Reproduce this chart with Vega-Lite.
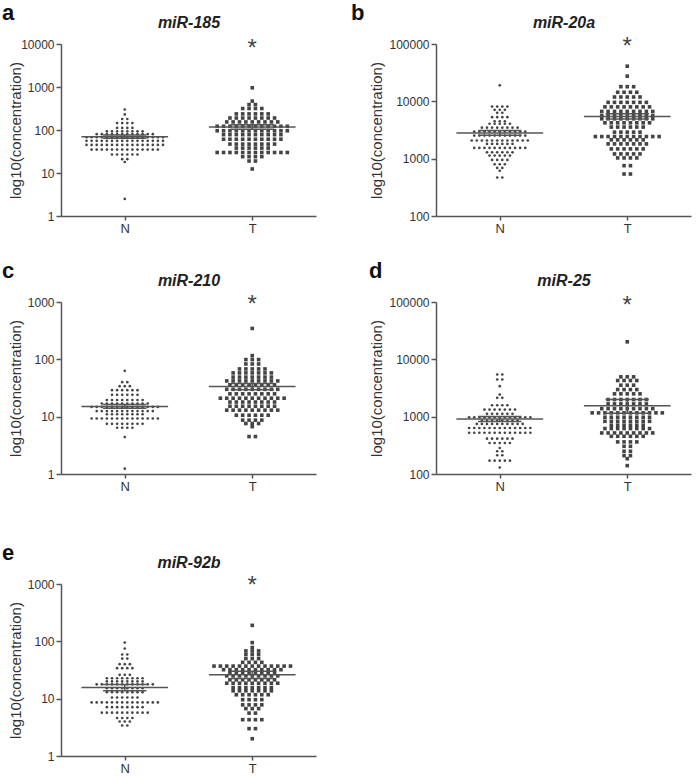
{
"$schema":"https://vega.github.io/schema/vega-lite/v6.json",
"padding":{"left":2,"top":2,"right":2,"bottom":2},
"background":"white",
"config":{
 "view":{"stroke":null},
 "font":"Liberation Sans",
 "title":{"anchor":"start","frame":"bounds","fontSize":22,"fontWeight":"bold","color":"#111","font":"Liberation Sans","offset":-11},
 "axis":{"domainColor":"#555","domainWidth":1.5,"tickColor":"#555","tickWidth":1.5,"labelFont":"Liberation Sans","labelFontSize":12,"labelColor":"#333","titleFont":"Liberation Sans","titleFontSize":15,"titleFontWeight":"normal","titleColor":"#333","grid":false},
 "axisY":{"tickSize":5,"labelPadding":2},
 "axisX":{"tickSize":4,"labelPadding":2}
},
"datasets":{
"s":[{"p":"a","g":"N","mean":70,"lo":64,"hi":77,"sig":""},{"p":"a","g":"T","mean":118,"lo":104,"hi":133,"sig":"*"},{"p":"b","g":"N","mean":2800,"lo":2550,"hi":3100,"sig":""},{"p":"b","g":"T","mean":5450,"lo":4900,"hi":6100,"sig":"*"},{"p":"c","g":"N","mean":15,"lo":14,"hi":16.3,"sig":""},{"p":"c","g":"T","mean":33.5,"lo":29.5,"hi":38,"sig":"*"},{"p":"d","g":"N","mean":910,"lo":820,"hi":1010,"sig":""},{"p":"d","g":"T","mean":1550,"lo":1150,"hi":2000,"sig":"*"},{"p":"e","g":"N","mean":15.6,"lo":13.8,"hi":17.6,"sig":""},{"p":"e","g":"T","mean":26,"lo":22.5,"hi":30,"sig":"*"}],
"a":[
{"g":"N","v":2.5},{"g":"N","v":18},{"g":"N","v":21},{"g":"N","v":21},
{"g":"N","v":27},{"g":"N","v":27},{"g":"N","v":27},{"g":"N","v":27},{"g":"N","v":27},{"g":"N","v":27},
{"g":"N","v":35},{"g":"N","v":35},{"g":"N","v":35},{"g":"N","v":35},{"g":"N","v":35},{"g":"N","v":35},{"g":"N","v":35},{"g":"N","v":35},{"g":"N","v":35},{"g":"N","v":35},{"g":"N","v":35},{"g":"N","v":35},{"g":"N","v":35},{"g":"N","v":35},
{"g":"N","v":45},{"g":"N","v":45},{"g":"N","v":45},{"g":"N","v":45},{"g":"N","v":45},{"g":"N","v":45},{"g":"N","v":45},{"g":"N","v":45},{"g":"N","v":45},{"g":"N","v":45},{"g":"N","v":45},{"g":"N","v":45},{"g":"N","v":45},{"g":"N","v":45},{"g":"N","v":45},{"g":"N","v":45},
{"g":"N","v":56},{"g":"N","v":56},{"g":"N","v":56},{"g":"N","v":56},{"g":"N","v":56},{"g":"N","v":56},{"g":"N","v":56},{"g":"N","v":56},{"g":"N","v":56},{"g":"N","v":56},{"g":"N","v":56},{"g":"N","v":56},{"g":"N","v":56},{"g":"N","v":56},{"g":"N","v":56},{"g":"N","v":56},
{"g":"N","v":68},{"g":"N","v":68},{"g":"N","v":68},{"g":"N","v":68},{"g":"N","v":68},{"g":"N","v":68},{"g":"N","v":68},{"g":"N","v":68},{"g":"N","v":68},{"g":"N","v":68},{"g":"N","v":68},{"g":"N","v":68},{"g":"N","v":68},{"g":"N","v":68},{"g":"N","v":68},{"g":"N","v":68},
{"g":"N","v":80},{"g":"N","v":80},{"g":"N","v":80},{"g":"N","v":80},{"g":"N","v":80},{"g":"N","v":80},{"g":"N","v":80},{"g":"N","v":80},{"g":"N","v":80},{"g":"N","v":80},{"g":"N","v":80},{"g":"N","v":80},
{"g":"N","v":93},{"g":"N","v":93},{"g":"N","v":93},{"g":"N","v":93},{"g":"N","v":93},{"g":"N","v":93},{"g":"N","v":93},{"g":"N","v":93},
{"g":"N","v":112},{"g":"N","v":112},{"g":"N","v":112},{"g":"N","v":112},
{"g":"N","v":145},{"g":"N","v":145},{"g":"N","v":145},{"g":"N","v":145},
{"g":"N","v":180},{"g":"N","v":180},{"g":"N","v":230},{"g":"N","v":300},
{"g":"T","v":960},{"g":"T","v":470},{"g":"T","v":390},{"g":"T","v":390},
{"g":"T","v":316},{"g":"T","v":316},{"g":"T","v":316},{"g":"T","v":316},
{"g":"T","v":237},{"g":"T","v":237},{"g":"T","v":237},{"g":"T","v":237},{"g":"T","v":237},{"g":"T","v":237},
{"g":"T","v":190},{"g":"T","v":190},{"g":"T","v":190},{"g":"T","v":190},{"g":"T","v":190},{"g":"T","v":190},{"g":"T","v":190},{"g":"T","v":190},
{"g":"T","v":154},{"g":"T","v":154},{"g":"T","v":154},{"g":"T","v":154},{"g":"T","v":154},{"g":"T","v":154},{"g":"T","v":154},{"g":"T","v":154},{"g":"T","v":154},
{"g":"T","v":122},{"g":"T","v":122},{"g":"T","v":122},{"g":"T","v":122},{"g":"T","v":122},{"g":"T","v":122},{"g":"T","v":122},{"g":"T","v":122},{"g":"T","v":122},{"g":"T","v":122},{"g":"T","v":122},{"g":"T","v":122},
{"g":"T","v":96},{"g":"T","v":96},{"g":"T","v":96},{"g":"T","v":96},{"g":"T","v":96},{"g":"T","v":96},{"g":"T","v":96},{"g":"T","v":96},{"g":"T","v":96},{"g":"T","v":96},{"g":"T","v":96},{"g":"T","v":96},
{"g":"T","v":78},{"g":"T","v":78},{"g":"T","v":78},{"g":"T","v":78},{"g":"T","v":78},{"g":"T","v":78},{"g":"T","v":78},{"g":"T","v":78},{"g":"T","v":78},{"g":"T","v":78},
{"g":"T","v":61},{"g":"T","v":61},{"g":"T","v":61},{"g":"T","v":61},{"g":"T","v":61},{"g":"T","v":61},{"g":"T","v":61},{"g":"T","v":61},{"g":"T","v":61},{"g":"T","v":61},
{"g":"T","v":47},{"g":"T","v":47},{"g":"T","v":47},{"g":"T","v":47},{"g":"T","v":47},{"g":"T","v":47},{"g":"T","v":47},{"g":"T","v":47},
{"g":"T","v":38},{"g":"T","v":38},{"g":"T","v":38},{"g":"T","v":38},{"g":"T","v":38},{"g":"T","v":38},
{"g":"T","v":30},{"g":"T","v":30},{"g":"T","v":30},{"g":"T","v":30},{"g":"T","v":30},{"g":"T","v":30},{"g":"T","v":30},{"g":"T","v":30},{"g":"T","v":30},{"g":"T","v":30},{"g":"T","v":30},{"g":"T","v":30},
{"g":"T","v":24},{"g":"T","v":24},{"g":"T","v":24},{"g":"T","v":24},{"g":"T","v":19},{"g":"T","v":19},{"g":"T","v":12.4}
],
"b":[
{"g":"N","v":19000},
{"g":"N","v":8100},{"g":"N","v":8100},{"g":"N","v":8100},{"g":"N","v":8100},
{"g":"N","v":7100},{"g":"N","v":7100},{"g":"N","v":7100},
{"g":"N","v":6300},{"g":"N","v":6300},
{"g":"N","v":5300},{"g":"N","v":5300},{"g":"N","v":5300},{"g":"N","v":5300},
{"g":"N","v":4500},{"g":"N","v":4500},{"g":"N","v":4500},
{"g":"N","v":4060},{"g":"N","v":4060},{"g":"N","v":4060},{"g":"N","v":4060},{"g":"N","v":4060},
{"g":"N","v":3470},{"g":"N","v":3470},{"g":"N","v":3470},{"g":"N","v":3470},{"g":"N","v":3470},{"g":"N","v":3470},{"g":"N","v":3470},{"g":"N","v":3470},
{"g":"N","v":2970},{"g":"N","v":2970},{"g":"N","v":2970},{"g":"N","v":2970},{"g":"N","v":2970},{"g":"N","v":2970},{"g":"N","v":2970},{"g":"N","v":2970},{"g":"N","v":2970},{"g":"N","v":2970},{"g":"N","v":2970},
{"g":"N","v":2530},{"g":"N","v":2530},{"g":"N","v":2530},{"g":"N","v":2530},{"g":"N","v":2530},{"g":"N","v":2530},{"g":"N","v":2530},{"g":"N","v":2530},{"g":"N","v":2530},{"g":"N","v":2530},{"g":"N","v":2530},
{"g":"N","v":2070},{"g":"N","v":2070},{"g":"N","v":2070},{"g":"N","v":2070},{"g":"N","v":2070},{"g":"N","v":2070},{"g":"N","v":2070},{"g":"N","v":2070},{"g":"N","v":2070},{"g":"N","v":2070},{"g":"N","v":2070},{"g":"N","v":2070},
{"g":"N","v":1810},{"g":"N","v":1810},{"g":"N","v":1810},{"g":"N","v":1810},{"g":"N","v":1810},{"g":"N","v":1810},
{"g":"N","v":1540},{"g":"N","v":1540},{"g":"N","v":1540},{"g":"N","v":1540},{"g":"N","v":1540},{"g":"N","v":1540},{"g":"N","v":1540},{"g":"N","v":1540},{"g":"N","v":1540},{"g":"N","v":1540},{"g":"N","v":1540},
{"g":"N","v":1290},{"g":"N","v":1290},{"g":"N","v":1290},{"g":"N","v":1290},{"g":"N","v":1290},{"g":"N","v":1290},
{"g":"N","v":1130},{"g":"N","v":1130},{"g":"N","v":1130},{"g":"N","v":1130},{"g":"N","v":1130},
{"g":"N","v":950},{"g":"N","v":950},{"g":"N","v":950},{"g":"N","v":950},
{"g":"N","v":800},{"g":"N","v":800},{"g":"N","v":800},
{"g":"N","v":690},{"g":"N","v":690},{"g":"N","v":615},{"g":"N","v":470},{"g":"N","v":470},
{"g":"T","v":41000},{"g":"T","v":27500},
{"g":"T","v":18000},{"g":"T","v":18000},{"g":"T","v":18000},
{"g":"T","v":14400},{"g":"T","v":14400},{"g":"T","v":14400},{"g":"T","v":14400},
{"g":"T","v":11900},{"g":"T","v":11900},{"g":"T","v":11900},{"g":"T","v":11900},{"g":"T","v":11900},
{"g":"T","v":9600},{"g":"T","v":9600},{"g":"T","v":9600},{"g":"T","v":9600},{"g":"T","v":9600},{"g":"T","v":9600},{"g":"T","v":9600},
{"g":"T","v":8000},{"g":"T","v":8000},{"g":"T","v":8000},{"g":"T","v":8000},{"g":"T","v":8000},{"g":"T","v":8000},{"g":"T","v":8000},{"g":"T","v":8000},
{"g":"T","v":6670},{"g":"T","v":6670},{"g":"T","v":6670},{"g":"T","v":6670},{"g":"T","v":6670},{"g":"T","v":6670},{"g":"T","v":6670},{"g":"T","v":6670},{"g":"T","v":6670},
{"g":"T","v":5650},{"g":"T","v":5650},{"g":"T","v":5650},{"g":"T","v":5650},{"g":"T","v":5650},{"g":"T","v":5650},{"g":"T","v":5650},{"g":"T","v":5650},{"g":"T","v":5650},
{"g":"T","v":4960},{"g":"T","v":4960},{"g":"T","v":4960},{"g":"T","v":4960},{"g":"T","v":4960},{"g":"T","v":4960},{"g":"T","v":4960},{"g":"T","v":4960},{"g":"T","v":4960},
{"g":"T","v":4220},{"g":"T","v":4220},{"g":"T","v":4220},{"g":"T","v":4220},{"g":"T","v":4220},{"g":"T","v":4220},{"g":"T","v":4220},{"g":"T","v":4220},
{"g":"T","v":3560},{"g":"T","v":3560},{"g":"T","v":3560},{"g":"T","v":3560},{"g":"T","v":3560},{"g":"T","v":3560},
{"g":"T","v":2900},{"g":"T","v":2900},{"g":"T","v":2900},{"g":"T","v":2900},{"g":"T","v":2900},
{"g":"T","v":2430},{"g":"T","v":2430},{"g":"T","v":2430},{"g":"T","v":2430},{"g":"T","v":2430},{"g":"T","v":2430},{"g":"T","v":2430},{"g":"T","v":2430},{"g":"T","v":2430},{"g":"T","v":2430},{"g":"T","v":2430},
{"g":"T","v":2130},{"g":"T","v":2130},{"g":"T","v":2130},{"g":"T","v":2130},{"g":"T","v":2130},{"g":"T","v":2130},
{"g":"T","v":1810},{"g":"T","v":1810},{"g":"T","v":1810},{"g":"T","v":1810},{"g":"T","v":1810},{"g":"T","v":1810},{"g":"T","v":1810},
{"g":"T","v":1480},{"g":"T","v":1480},{"g":"T","v":1480},{"g":"T","v":1480},{"g":"T","v":1480},{"g":"T","v":1480},
{"g":"T","v":1210},{"g":"T","v":1210},{"g":"T","v":1210},{"g":"T","v":1210},{"g":"T","v":1210},
{"g":"T","v":1030},{"g":"T","v":1030},{"g":"T","v":1030},{"g":"T","v":1030},
{"g":"T","v":755},{"g":"T","v":755},{"g":"T","v":540},{"g":"T","v":540}
],
"c":[
{"g":"N","v":1.24},{"g":"N","v":4.4},
{"g":"N","v":6.4},{"g":"N","v":6.4},{"g":"N","v":6.4},{"g":"N","v":6.4},
{"g":"N","v":7.5},{"g":"N","v":7.5},{"g":"N","v":7.5},{"g":"N","v":7.5},{"g":"N","v":7.5},{"g":"N","v":7.5},{"g":"N","v":7.5},{"g":"N","v":7.5},
{"g":"N","v":9.3},{"g":"N","v":9.3},{"g":"N","v":9.3},{"g":"N","v":9.3},{"g":"N","v":9.3},{"g":"N","v":9.3},{"g":"N","v":9.3},{"g":"N","v":9.3},{"g":"N","v":9.3},{"g":"N","v":9.3},{"g":"N","v":9.3},{"g":"N","v":9.3},{"g":"N","v":9.3},{"g":"N","v":9.3},
{"g":"N","v":11},{"g":"N","v":11},{"g":"N","v":11},{"g":"N","v":11},{"g":"N","v":11},{"g":"N","v":11},{"g":"N","v":11},{"g":"N","v":11},
{"g":"N","v":12.5},{"g":"N","v":12.5},{"g":"N","v":12.5},{"g":"N","v":12.5},{"g":"N","v":12.5},{"g":"N","v":12.5},{"g":"N","v":12.5},{"g":"N","v":12.5},{"g":"N","v":12.5},{"g":"N","v":12.5},{"g":"N","v":12.5},{"g":"N","v":12.5},
{"g":"N","v":14.8},{"g":"N","v":14.8},{"g":"N","v":14.8},{"g":"N","v":14.8},{"g":"N","v":14.8},{"g":"N","v":14.8},{"g":"N","v":14.8},{"g":"N","v":14.8},{"g":"N","v":14.8},{"g":"N","v":14.8},{"g":"N","v":14.8},{"g":"N","v":14.8},{"g":"N","v":14.8},{"g":"N","v":14.8},
{"g":"N","v":17},{"g":"N","v":17},{"g":"N","v":17},{"g":"N","v":17},{"g":"N","v":17},{"g":"N","v":17},{"g":"N","v":17},{"g":"N","v":17},{"g":"N","v":17},{"g":"N","v":17},
{"g":"N","v":19.5},{"g":"N","v":19.5},{"g":"N","v":19.5},{"g":"N","v":19.5},{"g":"N","v":19.5},{"g":"N","v":19.5},{"g":"N","v":19.5},{"g":"N","v":19.5},
{"g":"N","v":24},{"g":"N","v":24},{"g":"N","v":24},{"g":"N","v":24},{"g":"N","v":24},{"g":"N","v":24},
{"g":"N","v":29},{"g":"N","v":29},{"g":"N","v":29},{"g":"N","v":29},{"g":"N","v":29},{"g":"N","v":29},
{"g":"N","v":34},{"g":"N","v":34},{"g":"N","v":34},{"g":"N","v":40},{"g":"N","v":40},{"g":"N","v":63},
{"g":"T","v":346},{"g":"T","v":116},
{"g":"T","v":99},{"g":"T","v":99},{"g":"T","v":99},
{"g":"T","v":83},{"g":"T","v":83},{"g":"T","v":83},
{"g":"T","v":68},{"g":"T","v":68},{"g":"T","v":68},{"g":"T","v":68},{"g":"T","v":68},
{"g":"T","v":58},{"g":"T","v":58},{"g":"T","v":58},{"g":"T","v":58},{"g":"T","v":58},{"g":"T","v":58},{"g":"T","v":58},
{"g":"T","v":49},{"g":"T","v":49},{"g":"T","v":49},{"g":"T","v":49},{"g":"T","v":49},{"g":"T","v":49},{"g":"T","v":49},
{"g":"T","v":42},{"g":"T","v":42},{"g":"T","v":42},{"g":"T","v":42},{"g":"T","v":42},{"g":"T","v":42},{"g":"T","v":42},{"g":"T","v":42},{"g":"T","v":42},
{"g":"T","v":36},{"g":"T","v":36},{"g":"T","v":36},{"g":"T","v":36},{"g":"T","v":36},{"g":"T","v":36},{"g":"T","v":36},{"g":"T","v":36},
{"g":"T","v":30},{"g":"T","v":30},{"g":"T","v":30},{"g":"T","v":30},{"g":"T","v":30},{"g":"T","v":30},{"g":"T","v":30},{"g":"T","v":30},{"g":"T","v":30},
{"g":"T","v":25},{"g":"T","v":25},{"g":"T","v":25},{"g":"T","v":25},{"g":"T","v":25},{"g":"T","v":25},{"g":"T","v":25},{"g":"T","v":25},
{"g":"T","v":21},{"g":"T","v":21},{"g":"T","v":21},{"g":"T","v":21},{"g":"T","v":21},{"g":"T","v":21},{"g":"T","v":21},{"g":"T","v":21},{"g":"T","v":21},{"g":"T","v":21},{"g":"T","v":21},
{"g":"T","v":18},{"g":"T","v":18},{"g":"T","v":18},{"g":"T","v":18},{"g":"T","v":18},{"g":"T","v":18},{"g":"T","v":18},{"g":"T","v":18},
{"g":"T","v":15.2},{"g":"T","v":15.2},{"g":"T","v":15.2},{"g":"T","v":15.2},{"g":"T","v":15.2},{"g":"T","v":15.2},{"g":"T","v":15.2},{"g":"T","v":15.2},
{"g":"T","v":13},{"g":"T","v":13},{"g":"T","v":13},{"g":"T","v":13},{"g":"T","v":13},{"g":"T","v":13},{"g":"T","v":13},{"g":"T","v":13},{"g":"T","v":13},
{"g":"T","v":10.6},{"g":"T","v":10.6},{"g":"T","v":10.6},{"g":"T","v":10.6},{"g":"T","v":10.6},{"g":"T","v":10.6},
{"g":"T","v":8.7},{"g":"T","v":8.7},{"g":"T","v":8.7},{"g":"T","v":8.7},
{"g":"T","v":7.6},{"g":"T","v":7.6},{"g":"T","v":7.6},{"g":"T","v":6.7},{"g":"T","v":4.5},{"g":"T","v":4.5}
],
"d":[
{"g":"N","v":130},
{"g":"N","v":171},{"g":"N","v":171},{"g":"N","v":171},{"g":"N","v":171},{"g":"N","v":171},
{"g":"N","v":212},{"g":"N","v":212},{"g":"N","v":249},{"g":"N","v":249},{"g":"N","v":284},
{"g":"N","v":347},{"g":"N","v":347},{"g":"N","v":347},{"g":"N","v":347},{"g":"N","v":347},
{"g":"N","v":414},{"g":"N","v":414},{"g":"N","v":414},{"g":"N","v":414},{"g":"N","v":414},{"g":"N","v":414},
{"g":"N","v":525},{"g":"N","v":525},{"g":"N","v":525},{"g":"N","v":525},{"g":"N","v":525},{"g":"N","v":525},{"g":"N","v":525},{"g":"N","v":525},{"g":"N","v":525},{"g":"N","v":525},{"g":"N","v":525},{"g":"N","v":525},{"g":"N","v":525},
{"g":"N","v":635},{"g":"N","v":635},{"g":"N","v":635},{"g":"N","v":635},{"g":"N","v":635},{"g":"N","v":635},{"g":"N","v":635},{"g":"N","v":635},{"g":"N","v":635},{"g":"N","v":635},{"g":"N","v":635},{"g":"N","v":635},{"g":"N","v":635},
{"g":"N","v":748},{"g":"N","v":748},{"g":"N","v":748},{"g":"N","v":748},{"g":"N","v":748},{"g":"N","v":748},{"g":"N","v":748},{"g":"N","v":748},{"g":"N","v":748},{"g":"N","v":748},
{"g":"N","v":852},{"g":"N","v":852},{"g":"N","v":852},{"g":"N","v":852},{"g":"N","v":852},{"g":"N","v":852},{"g":"N","v":852},{"g":"N","v":852},
{"g":"N","v":978},{"g":"N","v":978},{"g":"N","v":978},{"g":"N","v":978},{"g":"N","v":978},{"g":"N","v":978},{"g":"N","v":978},{"g":"N","v":978},{"g":"N","v":978},{"g":"N","v":978},{"g":"N","v":978},{"g":"N","v":978},{"g":"N","v":978},
{"g":"N","v":1120},{"g":"N","v":1120},{"g":"N","v":1120},{"g":"N","v":1120},{"g":"N","v":1120},{"g":"N","v":1120},
{"g":"N","v":1330},{"g":"N","v":1330},{"g":"N","v":1330},{"g":"N","v":1330},{"g":"N","v":1330},{"g":"N","v":1330},{"g":"N","v":1330},
{"g":"N","v":1580},{"g":"N","v":1580},{"g":"N","v":1580},{"g":"N","v":1580},
{"g":"N","v":2130},{"g":"N","v":2130},{"g":"N","v":2430},{"g":"N","v":3400},{"g":"N","v":4450},{"g":"N","v":4450},{"g":"N","v":5440},{"g":"N","v":5440},
{"g":"T","v":20200},
{"g":"T","v":4950},{"g":"T","v":4950},{"g":"T","v":4950},
{"g":"T","v":4270},{"g":"T","v":4270},{"g":"T","v":4270},{"g":"T","v":4270},
{"g":"T","v":3540},{"g":"T","v":3540},{"g":"T","v":3540},
{"g":"T","v":2970},{"g":"T","v":2970},{"g":"T","v":2970},{"g":"T","v":2970},
{"g":"T","v":2500},{"g":"T","v":2500},{"g":"T","v":2500},{"g":"T","v":2500},{"g":"T","v":2500},
{"g":"T","v":1990},{"g":"T","v":1990},{"g":"T","v":1990},{"g":"T","v":1990},{"g":"T","v":1990},{"g":"T","v":1990},{"g":"T","v":1990},
{"g":"T","v":1670},{"g":"T","v":1670},{"g":"T","v":1670},{"g":"T","v":1670},{"g":"T","v":1670},{"g":"T","v":1670},{"g":"T","v":1670},
{"g":"T","v":1380},{"g":"T","v":1380},{"g":"T","v":1380},{"g":"T","v":1380},{"g":"T","v":1380},{"g":"T","v":1380},{"g":"T","v":1380},{"g":"T","v":1380},{"g":"T","v":1380},
{"g":"T","v":1165},{"g":"T","v":1165},{"g":"T","v":1165},{"g":"T","v":1165},{"g":"T","v":1165},{"g":"T","v":1165},{"g":"T","v":1165},{"g":"T","v":1165},{"g":"T","v":1165},{"g":"T","v":1165},{"g":"T","v":1165},{"g":"T","v":1165},
{"g":"T","v":978},{"g":"T","v":978},{"g":"T","v":978},{"g":"T","v":978},{"g":"T","v":978},{"g":"T","v":978},{"g":"T","v":978},{"g":"T","v":978},
{"g":"T","v":830},{"g":"T","v":830},{"g":"T","v":830},{"g":"T","v":830},{"g":"T","v":830},{"g":"T","v":830},{"g":"T","v":830},{"g":"T","v":830},
{"g":"T","v":710},{"g":"T","v":710},{"g":"T","v":710},{"g":"T","v":710},{"g":"T","v":710},{"g":"T","v":710},
{"g":"T","v":620},{"g":"T","v":620},{"g":"T","v":620},{"g":"T","v":620},{"g":"T","v":620},{"g":"T","v":620},{"g":"T","v":620},{"g":"T","v":620},
{"g":"T","v":520},{"g":"T","v":520},{"g":"T","v":520},{"g":"T","v":520},{"g":"T","v":520},{"g":"T","v":520},{"g":"T","v":520},{"g":"T","v":520},{"g":"T","v":520},
{"g":"T","v":455},{"g":"T","v":455},{"g":"T","v":455},{"g":"T","v":455},{"g":"T","v":455},{"g":"T","v":455},
{"g":"T","v":363},{"g":"T","v":363},{"g":"T","v":363},{"g":"T","v":363},
{"g":"T","v":304},{"g":"T","v":304},{"g":"T","v":249},{"g":"T","v":249},{"g":"T","v":209},{"g":"T","v":209},{"g":"T","v":185},{"g":"T","v":140}
],
"e":[
{"g":"N","v":95},{"g":"N","v":75},{"g":"N","v":59},{"g":"N","v":59},{"g":"N","v":50},{"g":"N","v":50},
{"g":"N","v":40},{"g":"N","v":40},{"g":"N","v":40},
{"g":"N","v":34},{"g":"N","v":34},{"g":"N","v":34},{"g":"N","v":34},
{"g":"N","v":26},{"g":"N","v":26},{"g":"N","v":26},
{"g":"N","v":22.7},{"g":"N","v":22.7},{"g":"N","v":22.7},{"g":"N","v":22.7},{"g":"N","v":22.7},{"g":"N","v":22.7},{"g":"N","v":22.7},{"g":"N","v":22.7},
{"g":"N","v":20},{"g":"N","v":20},{"g":"N","v":20},{"g":"N","v":20},{"g":"N","v":20},{"g":"N","v":20},{"g":"N","v":20},{"g":"N","v":20},
{"g":"N","v":17.8},{"g":"N","v":17.8},{"g":"N","v":17.8},{"g":"N","v":17.8},{"g":"N","v":17.8},{"g":"N","v":17.8},{"g":"N","v":17.8},{"g":"N","v":17.8},{"g":"N","v":17.8},{"g":"N","v":17.8},{"g":"N","v":17.8},{"g":"N","v":17.8},
{"g":"N","v":15.2},{"g":"N","v":15.2},{"g":"N","v":15.2},{"g":"N","v":15.2},{"g":"N","v":15.2},{"g":"N","v":15.2},{"g":"N","v":15.2},{"g":"N","v":15.2},
{"g":"N","v":13},{"g":"N","v":13},{"g":"N","v":13},{"g":"N","v":13},{"g":"N","v":13},{"g":"N","v":13},{"g":"N","v":13},{"g":"N","v":13},
{"g":"N","v":10.5},{"g":"N","v":10.5},{"g":"N","v":10.5},{"g":"N","v":10.5},{"g":"N","v":10.5},{"g":"N","v":10.5},
{"g":"N","v":8.6},{"g":"N","v":8.6},{"g":"N","v":8.6},{"g":"N","v":8.6},{"g":"N","v":8.6},{"g":"N","v":8.6},{"g":"N","v":8.6},{"g":"N","v":8.6},{"g":"N","v":8.6},{"g":"N","v":8.6},{"g":"N","v":8.6},{"g":"N","v":8.6},{"g":"N","v":8.6},{"g":"N","v":8.6},
{"g":"N","v":7.1},{"g":"N","v":7.1},{"g":"N","v":7.1},{"g":"N","v":7.1},{"g":"N","v":7.1},{"g":"N","v":7.1},{"g":"N","v":7.1},{"g":"N","v":7.1},
{"g":"N","v":5.7},{"g":"N","v":5.7},{"g":"N","v":5.7},{"g":"N","v":5.7},{"g":"N","v":5.7},{"g":"N","v":5.7},{"g":"N","v":5.7},{"g":"N","v":5.7},{"g":"N","v":5.7},{"g":"N","v":5.7},
{"g":"N","v":4.6},{"g":"N","v":4.6},{"g":"N","v":4.6},{"g":"N","v":4.6},
{"g":"N","v":4.0},{"g":"N","v":4.0},{"g":"N","v":4.0},{"g":"N","v":3.4},{"g":"N","v":3.4},
{"g":"T","v":190},{"g":"T","v":95},{"g":"T","v":78},
{"g":"T","v":68},{"g":"T","v":68},{"g":"T","v":68},
{"g":"T","v":59},{"g":"T","v":59},{"g":"T","v":59},
{"g":"T","v":50},{"g":"T","v":50},{"g":"T","v":50},
{"g":"T","v":43},{"g":"T","v":43},{"g":"T","v":43},{"g":"T","v":43},
{"g":"T","v":37},{"g":"T","v":37},{"g":"T","v":37},{"g":"T","v":37},{"g":"T","v":37},{"g":"T","v":37},{"g":"T","v":37},{"g":"T","v":37},{"g":"T","v":37},{"g":"T","v":37},{"g":"T","v":37},{"g":"T","v":37},{"g":"T","v":37},
{"g":"T","v":32},{"g":"T","v":32},{"g":"T","v":32},{"g":"T","v":32},{"g":"T","v":32},{"g":"T","v":32},{"g":"T","v":32},{"g":"T","v":32},{"g":"T","v":32},{"g":"T","v":32},
{"g":"T","v":28.5},{"g":"T","v":28.5},{"g":"T","v":28.5},{"g":"T","v":28.5},{"g":"T","v":28.5},{"g":"T","v":28.5},{"g":"T","v":28.5},{"g":"T","v":28.5},
{"g":"T","v":25},{"g":"T","v":25},{"g":"T","v":25},{"g":"T","v":25},{"g":"T","v":25},{"g":"T","v":25},{"g":"T","v":25},{"g":"T","v":25},{"g":"T","v":25},
{"g":"T","v":21.3},{"g":"T","v":21.3},{"g":"T","v":21.3},{"g":"T","v":21.3},{"g":"T","v":21.3},{"g":"T","v":21.3},{"g":"T","v":21.3},{"g":"T","v":21.3},
{"g":"T","v":18.6},{"g":"T","v":18.6},{"g":"T","v":18.6},{"g":"T","v":18.6},{"g":"T","v":18.6},{"g":"T","v":18.6},{"g":"T","v":18.6},{"g":"T","v":18.6},{"g":"T","v":18.6},
{"g":"T","v":15.6},{"g":"T","v":15.6},{"g":"T","v":15.6},{"g":"T","v":15.6},{"g":"T","v":15.6},{"g":"T","v":15.6},{"g":"T","v":15.6},
{"g":"T","v":13.7},{"g":"T","v":13.7},{"g":"T","v":13.7},{"g":"T","v":13.7},{"g":"T","v":13.7},{"g":"T","v":13.7},{"g":"T","v":13.7},
{"g":"T","v":11.7},{"g":"T","v":11.7},{"g":"T","v":11.7},{"g":"T","v":11.7},{"g":"T","v":11.7},{"g":"T","v":11.7},
{"g":"T","v":9.6},{"g":"T","v":9.6},{"g":"T","v":9.6},{"g":"T","v":9.6},
{"g":"T","v":7.8},{"g":"T","v":7.8},{"g":"T","v":7.8},{"g":"T","v":7.8},
{"g":"T","v":6.7},{"g":"T","v":6.7},{"g":"T","v":6.7},{"g":"T","v":5.6},{"g":"T","v":5.6},
{"g":"T","v":4.3},{"g":"T","v":4.3},{"g":"T","v":4.3},{"g":"T","v":4.3},{"g":"T","v":3.0},{"g":"T","v":3.0},{"g":"T","v":2.0}
]
},
"vconcat":[
{"vconcat":[
{"hconcat":[
{"width":255,"height":172,"title":{"text":"a","dx":-6},"resolve":{"axis":{"x":"independent","y":"independent"}},
"layer":[
{"data":{"name":"a"},"transform":[{"filter":"datum.g=='N'"},{"window":[{"op":"row_number","as":"rk"}],"groupby":["v"]},{"joinaggregate":[{"op":"count","as":"n"}],"groupby":["v"]},{"calculate":"(datum.rk-(datum.n+1)/2)*0.04","as":"xp"}],
"mark":{"type":"point","shape":"circle","filled":true,"size":7,"color":"#444","opacity":1},
"encoding":{"x":{"field":"xp","type":"quantitative","scale":{"domain":[-0.5,1.5],"nice":false,"zero":false},"axis":{"orient":"bottom","values":[0,1],"labelExpr":"datum.value==0?'N':'T'","title":null,"labelFontSize":13}},
"y":{"field":"v","type":"quantitative","scale":{"type":"log","domain":[1,10000],"nice":false},"axis":{"values":[1,10,100,1000,10000],"format":"d","title":"log10(concentration)","minExtent":40,"maxExtent":40,"titlePadding":-2}}}},
{"data":{"name":"a"},"transform":[{"filter":"datum.g=='T'"},{"window":[{"op":"row_number","as":"rk"}],"groupby":["v"]},{"joinaggregate":[{"op":"count","as":"n"}],"groupby":["v"]},{"calculate":"1+(datum.rk-(datum.n+1)/2)*0.05","as":"xp"}],
"mark":{"type":"point","shape":"square","filled":true,"size":13,"color":"#444","opacity":1},
"encoding":{"x":{"field":"xp","type":"quantitative","scale":{"domain":[-0.5,1.5],"nice":false,"zero":false},"axis":null},
"y":{"field":"v","type":"quantitative","scale":{"type":"log","domain":[1,10000],"nice":false},"axis":null}}},
{"data":{"name":"s"},"transform":[{"filter":"datum.p=='a'"},{"calculate":"datum.g=='N'?0:1","as":"gx"},{"calculate":"datum.gx-0.34","as":"m1"},{"calculate":"datum.gx+0.34","as":"m2"},{"calculate":"datum.gx-0.17","as":"c1"},{"calculate":"datum.gx+0.17","as":"c2"}],
"resolve":{"axis":{"x":"independent","y":"independent"}},
"layer":[
{"mark":{"type":"rule","color":"#555","strokeWidth":1.5},"encoding":{"x":{"field":"m1","type":"quantitative","scale":{"domain":[-0.5,1.5],"nice":false,"zero":false},"axis":null},"x2":{"field":"m2"},"y":{"field":"mean","type":"quantitative","scale":{"type":"log","domain":[1,10000],"nice":false},"axis":null}}},
{"mark":{"type":"rule","color":"#555","strokeWidth":1.5},"encoding":{"x":{"field":"gx","type":"quantitative","scale":{"domain":[-0.5,1.5],"nice":false,"zero":false},"axis":null},"y":{"field":"lo","type":"quantitative","scale":{"type":"log","domain":[1,10000],"nice":false},"axis":null},"y2":{"field":"hi"}}},
{"mark":{"type":"rule","color":"#555","strokeWidth":1.5},"encoding":{"x":{"field":"c1","type":"quantitative","scale":{"domain":[-0.5,1.5],"nice":false,"zero":false},"axis":null},"x2":{"field":"c2"},"y":{"field":"lo","type":"quantitative","scale":{"type":"log","domain":[1,10000],"nice":false},"axis":null}}},
{"mark":{"type":"rule","color":"#555","strokeWidth":1.5},"encoding":{"x":{"field":"c1","type":"quantitative","scale":{"domain":[-0.5,1.5],"nice":false,"zero":false},"axis":null},"x2":{"field":"c2"},"y":{"field":"hi","type":"quantitative","scale":{"type":"log","domain":[1,10000],"nice":false},"axis":null}}},
{"transform":[{"filter":"datum.sig=='*'"}],"mark":{"type":"text","fontSize":24,"color":"#444","baseline":"middle","dy":5},"encoding":{"text":{"field":"sig"},"x":{"field":"gx","type":"quantitative","scale":{"domain":[-0.5,1.5],"nice":false,"zero":false},"axis":{"orient":"top","domain":false,"ticks":false,"labels":false,"title":"miR-185","titleFontStyle":"italic","titleFontWeight":"bold","titleFontSize":16,"titleColor":"#222","titlePadding":14}},"y":{"datum":10000,"type":"quantitative","scale":{"type":"log","domain":[1,10000],"nice":false},"axis":null}}}
]}
]},
{"width":255,"height":172,"title":{"text":"b","dx":-18},"resolve":{"axis":{"x":"independent","y":"independent"}},
"layer":[
{"data":{"name":"b"},"transform":[{"filter":"datum.g=='N'"},{"window":[{"op":"row_number","as":"rk"}],"groupby":["v"]},{"joinaggregate":[{"op":"count","as":"n"}],"groupby":["v"]},{"calculate":"(datum.rk-(datum.n+1)/2)*0.04","as":"xp"}],
"mark":{"type":"point","shape":"circle","filled":true,"size":7,"color":"#444","opacity":1},
"encoding":{"x":{"field":"xp","type":"quantitative","scale":{"domain":[-0.5,1.5],"nice":false,"zero":false},"axis":{"orient":"bottom","values":[0,1],"labelExpr":"datum.value==0?'N':'T'","title":null,"labelFontSize":13}},
"y":{"field":"v","type":"quantitative","scale":{"type":"log","domain":[100,100000],"nice":false},"axis":{"values":[100,1000,10000,100000],"format":"d","title":"log10(concentration)","minExtent":47,"maxExtent":47,"titlePadding":5}}}},
{"data":{"name":"b"},"transform":[{"filter":"datum.g=='T'"},{"window":[{"op":"row_number","as":"rk"}],"groupby":["v"]},{"joinaggregate":[{"op":"count","as":"n"}],"groupby":["v"]},{"calculate":"1+(datum.rk-(datum.n+1)/2)*0.05","as":"xp"}],
"mark":{"type":"point","shape":"square","filled":true,"size":13,"color":"#444","opacity":1},
"encoding":{"x":{"field":"xp","type":"quantitative","scale":{"domain":[-0.5,1.5],"nice":false,"zero":false},"axis":null},
"y":{"field":"v","type":"quantitative","scale":{"type":"log","domain":[100,100000],"nice":false},"axis":null}}},
{"data":{"name":"s"},"transform":[{"filter":"datum.p=='b'"},{"calculate":"datum.g=='N'?0:1","as":"gx"},{"calculate":"datum.gx-0.34","as":"m1"},{"calculate":"datum.gx+0.34","as":"m2"},{"calculate":"datum.gx-0.17","as":"c1"},{"calculate":"datum.gx+0.17","as":"c2"}],
"resolve":{"axis":{"x":"independent","y":"independent"}},
"layer":[
{"mark":{"type":"rule","color":"#555","strokeWidth":1.5},"encoding":{"x":{"field":"m1","type":"quantitative","scale":{"domain":[-0.5,1.5],"nice":false,"zero":false},"axis":null},"x2":{"field":"m2"},"y":{"field":"mean","type":"quantitative","scale":{"type":"log","domain":[100,100000],"nice":false},"axis":null}}},
{"mark":{"type":"rule","color":"#555","strokeWidth":1.5},"encoding":{"x":{"field":"gx","type":"quantitative","scale":{"domain":[-0.5,1.5],"nice":false,"zero":false},"axis":null},"y":{"field":"lo","type":"quantitative","scale":{"type":"log","domain":[100,100000],"nice":false},"axis":null},"y2":{"field":"hi"}}},
{"mark":{"type":"rule","color":"#555","strokeWidth":1.5},"encoding":{"x":{"field":"c1","type":"quantitative","scale":{"domain":[-0.5,1.5],"nice":false,"zero":false},"axis":null},"x2":{"field":"c2"},"y":{"field":"lo","type":"quantitative","scale":{"type":"log","domain":[100,100000],"nice":false},"axis":null}}},
{"mark":{"type":"rule","color":"#555","strokeWidth":1.5},"encoding":{"x":{"field":"c1","type":"quantitative","scale":{"domain":[-0.5,1.5],"nice":false,"zero":false},"axis":null},"x2":{"field":"c2"},"y":{"field":"hi","type":"quantitative","scale":{"type":"log","domain":[100,100000],"nice":false},"axis":null}}},
{"transform":[{"filter":"datum.sig=='*'"}],"mark":{"type":"text","fontSize":24,"color":"#444","baseline":"middle","dy":3},"encoding":{"text":{"field":"sig"},"x":{"field":"gx","type":"quantitative","scale":{"domain":[-0.5,1.5],"nice":false,"zero":false},"axis":{"orient":"top","domain":false,"ticks":false,"labels":false,"title":"miR-20a","titleFontStyle":"italic","titleFontWeight":"bold","titleFontSize":16,"titleColor":"#222","titlePadding":14}},"y":{"datum":100000,"type":"quantitative","scale":{"type":"log","domain":[100,100000],"nice":false},"axis":null}}}
]}
]}
],"spacing":35},
{"hconcat":[
{"width":255,"height":172,"title":{"text":"c","dx":-6},"resolve":{"axis":{"x":"independent","y":"independent"}},
"layer":[
{"data":{"name":"c"},"transform":[{"filter":"datum.g=='N'"},{"window":[{"op":"row_number","as":"rk"}],"groupby":["v"]},{"joinaggregate":[{"op":"count","as":"n"}],"groupby":["v"]},{"calculate":"(datum.rk-(datum.n+1)/2)*0.04","as":"xp"}],
"mark":{"type":"point","shape":"circle","filled":true,"size":7,"color":"#444","opacity":1},
"encoding":{"x":{"field":"xp","type":"quantitative","scale":{"domain":[-0.5,1.5],"nice":false,"zero":false},"axis":{"orient":"bottom","values":[0,1],"labelExpr":"datum.value==0?'N':'T'","title":null,"labelFontSize":13}},
"y":{"field":"v","type":"quantitative","scale":{"type":"log","domain":[1,1000],"nice":false},"axis":{"values":[1,10,100,1000],"format":"d","title":"log10(concentration)","minExtent":40,"maxExtent":40,"titlePadding":-2}}}},
{"data":{"name":"c"},"transform":[{"filter":"datum.g=='T'"},{"window":[{"op":"row_number","as":"rk"}],"groupby":["v"]},{"joinaggregate":[{"op":"count","as":"n"}],"groupby":["v"]},{"calculate":"1+(datum.rk-(datum.n+1)/2)*0.05","as":"xp"}],
"mark":{"type":"point","shape":"square","filled":true,"size":13,"color":"#444","opacity":1},
"encoding":{"x":{"field":"xp","type":"quantitative","scale":{"domain":[-0.5,1.5],"nice":false,"zero":false},"axis":null},
"y":{"field":"v","type":"quantitative","scale":{"type":"log","domain":[1,1000],"nice":false},"axis":null}}},
{"data":{"name":"s"},"transform":[{"filter":"datum.p=='c'"},{"calculate":"datum.g=='N'?0:1","as":"gx"},{"calculate":"datum.gx-0.34","as":"m1"},{"calculate":"datum.gx+0.34","as":"m2"},{"calculate":"datum.gx-0.17","as":"c1"},{"calculate":"datum.gx+0.17","as":"c2"}],
"resolve":{"axis":{"x":"independent","y":"independent"}},
"layer":[
{"mark":{"type":"rule","color":"#555","strokeWidth":1.5},"encoding":{"x":{"field":"m1","type":"quantitative","scale":{"domain":[-0.5,1.5],"nice":false,"zero":false},"axis":null},"x2":{"field":"m2"},"y":{"field":"mean","type":"quantitative","scale":{"type":"log","domain":[1,1000],"nice":false},"axis":null}}},
{"mark":{"type":"rule","color":"#555","strokeWidth":1.5},"encoding":{"x":{"field":"gx","type":"quantitative","scale":{"domain":[-0.5,1.5],"nice":false,"zero":false},"axis":null},"y":{"field":"lo","type":"quantitative","scale":{"type":"log","domain":[1,1000],"nice":false},"axis":null},"y2":{"field":"hi"}}},
{"mark":{"type":"rule","color":"#555","strokeWidth":1.5},"encoding":{"x":{"field":"c1","type":"quantitative","scale":{"domain":[-0.5,1.5],"nice":false,"zero":false},"axis":null},"x2":{"field":"c2"},"y":{"field":"lo","type":"quantitative","scale":{"type":"log","domain":[1,1000],"nice":false},"axis":null}}},
{"mark":{"type":"rule","color":"#555","strokeWidth":1.5},"encoding":{"x":{"field":"c1","type":"quantitative","scale":{"domain":[-0.5,1.5],"nice":false,"zero":false},"axis":null},"x2":{"field":"c2"},"y":{"field":"hi","type":"quantitative","scale":{"type":"log","domain":[1,1000],"nice":false},"axis":null}}},
{"transform":[{"filter":"datum.sig=='*'"}],"mark":{"type":"text","fontSize":24,"color":"#444","baseline":"middle","dy":3},"encoding":{"text":{"field":"sig"},"x":{"field":"gx","type":"quantitative","scale":{"domain":[-0.5,1.5],"nice":false,"zero":false},"axis":{"orient":"top","domain":false,"ticks":false,"labels":false,"title":"miR-210","titleFontStyle":"italic","titleFontWeight":"bold","titleFontSize":16,"titleColor":"#222","titlePadding":14}},"y":{"datum":1000,"type":"quantitative","scale":{"type":"log","domain":[1,1000],"nice":false},"axis":null}}}
]}
]},
{"width":255,"height":172,"title":{"text":"d","dx":0},"resolve":{"axis":{"x":"independent","y":"independent"}},
"layer":[
{"data":{"name":"d"},"transform":[{"filter":"datum.g=='N'"},{"window":[{"op":"row_number","as":"rk"}],"groupby":["v"]},{"joinaggregate":[{"op":"count","as":"n"}],"groupby":["v"]},{"calculate":"(datum.rk-(datum.n+1)/2)*0.04","as":"xp"}],
"mark":{"type":"point","shape":"circle","filled":true,"size":7,"color":"#444","opacity":1},
"encoding":{"x":{"field":"xp","type":"quantitative","scale":{"domain":[-0.5,1.5],"nice":false,"zero":false},"axis":{"orient":"bottom","values":[0,1],"labelExpr":"datum.value==0?'N':'T'","title":null,"labelFontSize":13}},
"y":{"field":"v","type":"quantitative","scale":{"type":"log","domain":[100,100000],"nice":false},"axis":{"values":[100,1000,10000,100000],"format":"d","title":"log10(concentration)","minExtent":47,"maxExtent":47,"titlePadding":5}}}},
{"data":{"name":"d"},"transform":[{"filter":"datum.g=='T'"},{"window":[{"op":"row_number","as":"rk"}],"groupby":["v"]},{"joinaggregate":[{"op":"count","as":"n"}],"groupby":["v"]},{"calculate":"1+(datum.rk-(datum.n+1)/2)*0.05","as":"xp"}],
"mark":{"type":"point","shape":"square","filled":true,"size":13,"color":"#444","opacity":1},
"encoding":{"x":{"field":"xp","type":"quantitative","scale":{"domain":[-0.5,1.5],"nice":false,"zero":false},"axis":null},
"y":{"field":"v","type":"quantitative","scale":{"type":"log","domain":[100,100000],"nice":false},"axis":null}}},
{"data":{"name":"s"},"transform":[{"filter":"datum.p=='d'"},{"calculate":"datum.g=='N'?0:1","as":"gx"},{"calculate":"datum.gx-0.34","as":"m1"},{"calculate":"datum.gx+0.34","as":"m2"},{"calculate":"datum.gx-0.17","as":"c1"},{"calculate":"datum.gx+0.17","as":"c2"}],
"resolve":{"axis":{"x":"independent","y":"independent"}},
"layer":[
{"mark":{"type":"rule","color":"#555","strokeWidth":1.5},"encoding":{"x":{"field":"m1","type":"quantitative","scale":{"domain":[-0.5,1.5],"nice":false,"zero":false},"axis":null},"x2":{"field":"m2"},"y":{"field":"mean","type":"quantitative","scale":{"type":"log","domain":[100,100000],"nice":false},"axis":null}}},
{"mark":{"type":"rule","color":"#555","strokeWidth":1.5},"encoding":{"x":{"field":"gx","type":"quantitative","scale":{"domain":[-0.5,1.5],"nice":false,"zero":false},"axis":null},"y":{"field":"lo","type":"quantitative","scale":{"type":"log","domain":[100,100000],"nice":false},"axis":null},"y2":{"field":"hi"}}},
{"mark":{"type":"rule","color":"#555","strokeWidth":1.5},"encoding":{"x":{"field":"c1","type":"quantitative","scale":{"domain":[-0.5,1.5],"nice":false,"zero":false},"axis":null},"x2":{"field":"c2"},"y":{"field":"lo","type":"quantitative","scale":{"type":"log","domain":[100,100000],"nice":false},"axis":null}}},
{"mark":{"type":"rule","color":"#555","strokeWidth":1.5},"encoding":{"x":{"field":"c1","type":"quantitative","scale":{"domain":[-0.5,1.5],"nice":false,"zero":false},"axis":null},"x2":{"field":"c2"},"y":{"field":"hi","type":"quantitative","scale":{"type":"log","domain":[100,100000],"nice":false},"axis":null}}},
{"transform":[{"filter":"datum.sig=='*'"}],"mark":{"type":"text","fontSize":24,"color":"#444","baseline":"middle","dy":4},"encoding":{"text":{"field":"sig"},"x":{"field":"gx","type":"quantitative","scale":{"domain":[-0.5,1.5],"nice":false,"zero":false},"axis":{"orient":"top","domain":false,"ticks":false,"labels":false,"title":"miR-25","titleFontStyle":"italic","titleFontWeight":"bold","titleFontSize":16,"titleColor":"#222","titlePadding":14}},"y":{"datum":100000,"type":"quantitative","scale":{"type":"log","domain":[100,100000],"nice":false},"axis":null}}}
]}
]}
],"spacing":53}
],"spacing":25},
{"width":255,"height":172,"title":{"text":"e","dx":-6},"resolve":{"axis":{"x":"independent","y":"independent"}},
"layer":[
{"data":{"name":"e"},"transform":[{"filter":"datum.g=='N'"},{"window":[{"op":"row_number","as":"rk"}],"groupby":["v"]},{"joinaggregate":[{"op":"count","as":"n"}],"groupby":["v"]},{"calculate":"(datum.rk-(datum.n+1)/2)*0.04","as":"xp"}],
"mark":{"type":"point","shape":"circle","filled":true,"size":7,"color":"#444","opacity":1},
"encoding":{"x":{"field":"xp","type":"quantitative","scale":{"domain":[-0.5,1.5],"nice":false,"zero":false},"axis":{"orient":"bottom","values":[0,1],"labelExpr":"datum.value==0?'N':'T'","title":null,"labelFontSize":13}},
"y":{"field":"v","type":"quantitative","scale":{"type":"log","domain":[1,1000],"nice":false},"axis":{"values":[1,10,100,1000],"format":"d","title":"log10(concentration)","minExtent":40,"maxExtent":40,"titlePadding":-2}}}},
{"data":{"name":"e"},"transform":[{"filter":"datum.g=='T'"},{"window":[{"op":"row_number","as":"rk"}],"groupby":["v"]},{"joinaggregate":[{"op":"count","as":"n"}],"groupby":["v"]},{"calculate":"1+(datum.rk-(datum.n+1)/2)*0.05","as":"xp"}],
"mark":{"type":"point","shape":"square","filled":true,"size":13,"color":"#444","opacity":1},
"encoding":{"x":{"field":"xp","type":"quantitative","scale":{"domain":[-0.5,1.5],"nice":false,"zero":false},"axis":null},
"y":{"field":"v","type":"quantitative","scale":{"type":"log","domain":[1,1000],"nice":false},"axis":null}}},
{"data":{"name":"s"},"transform":[{"filter":"datum.p=='e'"},{"calculate":"datum.g=='N'?0:1","as":"gx"},{"calculate":"datum.gx-0.34","as":"m1"},{"calculate":"datum.gx+0.34","as":"m2"},{"calculate":"datum.gx-0.17","as":"c1"},{"calculate":"datum.gx+0.17","as":"c2"}],
"resolve":{"axis":{"x":"independent","y":"independent"}},
"layer":[
{"mark":{"type":"rule","color":"#555","strokeWidth":1.5},"encoding":{"x":{"field":"m1","type":"quantitative","scale":{"domain":[-0.5,1.5],"nice":false,"zero":false},"axis":null},"x2":{"field":"m2"},"y":{"field":"mean","type":"quantitative","scale":{"type":"log","domain":[1,1000],"nice":false},"axis":null}}},
{"mark":{"type":"rule","color":"#555","strokeWidth":1.5},"encoding":{"x":{"field":"gx","type":"quantitative","scale":{"domain":[-0.5,1.5],"nice":false,"zero":false},"axis":null},"y":{"field":"lo","type":"quantitative","scale":{"type":"log","domain":[1,1000],"nice":false},"axis":null},"y2":{"field":"hi"}}},
{"mark":{"type":"rule","color":"#555","strokeWidth":1.5},"encoding":{"x":{"field":"c1","type":"quantitative","scale":{"domain":[-0.5,1.5],"nice":false,"zero":false},"axis":null},"x2":{"field":"c2"},"y":{"field":"lo","type":"quantitative","scale":{"type":"log","domain":[1,1000],"nice":false},"axis":null}}},
{"mark":{"type":"rule","color":"#555","strokeWidth":1.5},"encoding":{"x":{"field":"c1","type":"quantitative","scale":{"domain":[-0.5,1.5],"nice":false,"zero":false},"axis":null},"x2":{"field":"c2"},"y":{"field":"hi","type":"quantitative","scale":{"type":"log","domain":[1,1000],"nice":false},"axis":null}}},
{"transform":[{"filter":"datum.sig=='*'"}],"mark":{"type":"text","fontSize":24,"color":"#444","baseline":"middle","dy":2},"encoding":{"text":{"field":"sig"},"x":{"field":"gx","type":"quantitative","scale":{"domain":[-0.5,1.5],"nice":false,"zero":false},"axis":{"orient":"top","domain":false,"ticks":false,"labels":false,"title":"miR-92b","titleFontStyle":"italic","titleFontWeight":"bold","titleFontSize":16,"titleColor":"#222","titlePadding":14}},"y":{"datum":1000,"type":"quantitative","scale":{"type":"log","domain":[1,1000],"nice":false},"axis":null}}}
]}
]}
],
"spacing":49
}
